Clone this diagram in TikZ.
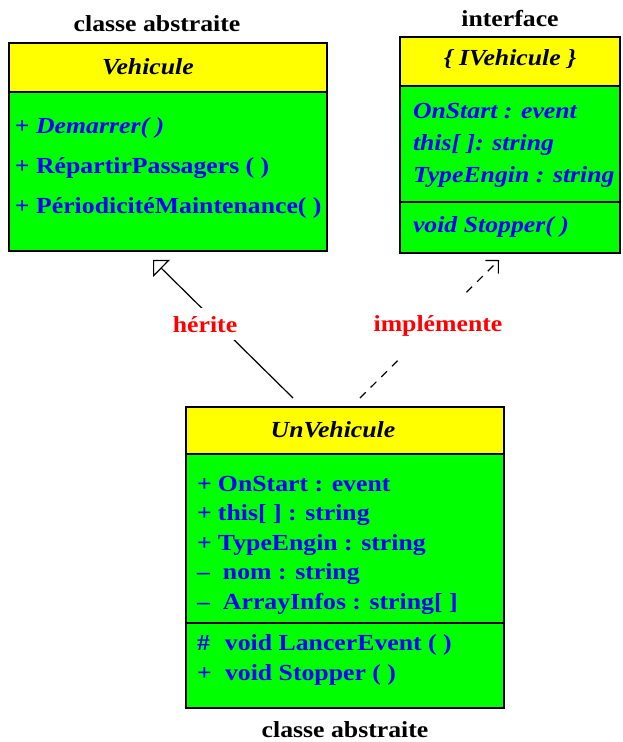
\documentclass[tikz,border=0pt]{standalone}
\usepackage{fontspec}
\setmainfont{Liberation Serif}[FakeStretch=1.12]
\usetikzlibrary{arrows.meta}
\definecolor{umlyellow}{RGB}{255,255,0}
\definecolor{umlgreen}{RGB}{0,255,0}
\definecolor{umlblue}{RGB}{0,0,255}
\definecolor{umlred}{RGB}{255,0,0}
\newcommand{\symb}[2]{\makebox[#1][l]{#2}}
\begin{document}
\begin{tikzpicture}[x=1pt,y=-1pt,
  every node/.style={inner sep=0pt, outer sep=0pt},
  comp/.style={draw=black, line width=1.5pt, anchor=north west},
  head/.style={comp, fill=umlyellow},
  body/.style={comp, fill=umlgreen},
  txt/.style={anchor=base west, text=umlblue, font=\fontsize{23}{28}\selectfont\bfseries},
  itxt/.style={txt, font=\fontsize{23}{28}\selectfont\bfseries\itshape},
  ttl/.style={anchor=base, font=\fontsize{23}{28}\selectfont\bfseries\itshape},
  caption/.style={anchor=base, font=\fontsize{23}{28}\selectfont\bfseries},
  rel/.style={text=umlred, fill=white, font=\fontsize{23}{28}\selectfont\bfseries},
  conn/.style={draw=black, line width=1.2pt},
  inherit/.style={conn, -{Triangle[open, angle=90:17pt, line width=1.2pt]}},
  realize/.style={conn, dash pattern=on 8pt off 7pt, -{Straight Barb[angle=90:13pt, line width=1.2pt]}}
]
\useasboundingbox (0,0) rectangle (623,742);

% ---- Vehicule (abstract class)
\node[caption] (capV) at (157,31) {classe abstraite};
\node[head, minimum width=318pt, minimum height=49pt] (vehH) at (9,43) {};
\node[body, minimum width=318pt, minimum height=159pt] (vehB) at (9,92) {};
\node[ttl] (vehT) at (148,74) {Vehicule};
\node[txt] (v1) at (15,133) {+ \textit{Demarrer( )}};
\node[txt] (v2) at (15,173) {+ RépartirPassagers ( )};
\node[txt] (v3) at (15,213) {+ PériodicitéMaintenance( )};

% ---- IVehicule (interface)
\node[caption] (capI) at (510,26) {interface};
\node[head, minimum width=220pt, minimum height=49pt] (ivH) at (400,37) {};
\node[body, minimum width=220pt, minimum height=116pt] (ivA) at (400,86) {};
\node[body, minimum width=220pt, minimum height=51pt] (ivO) at (400,202) {};
\node[ttl] (ivT) at (510,65) {\{ IVehicule \}};
\node[itxt] (i1) at (413,118) {OnStart : event};
\node[itxt] (i2) at (413,150) {this[ ]: string};
\node[itxt] (i3) at (413,182) {TypeEngin : string};
\node[itxt] (i4) at (413,232) {void Stopper( )};

% ---- UnVehicule (abstract class)
\node[head, minimum width=318pt, minimum height=47pt] (unH) at (186,407) {};
\node[body, minimum width=318pt, minimum height=169pt] (unA) at (186,454) {};
\node[body, minimum width=318pt, minimum height=85pt] (unO) at (186,623) {};
\node[ttl] (unT) at (333,437) {UnVehicule};
\node[txt] (u1) at (197,491) {\symb{21pt}{+}OnStart : event};
\node[txt] (u2) at (197,520) {\symb{21pt}{+}this[ ] : string};
\node[txt] (u3) at (197,550) {\symb{21pt}{+}TypeEngin : string};
\node[txt] (u4) at (197,579) {\symb{26pt}{–}nom : string};
\node[txt] (u5) at (197,609) {\symb{26pt}{–}ArrayInfos : string[ ]};
\node[txt] (u6) at (197,650) {\symb{28pt}{\#}void LancerEvent ( )};
\node[txt] (u7) at (197,680) {\symb{28pt}{+}void Stopper ( )};
\node[caption] (capU) at (345,737) {classe abstraite};

% ---- relations
\draw[inherit] ([xshift=107pt, yshift=9pt]unH.north west) -- ([xshift=144pt, yshift=-9pt]vehB.south west);
\draw[realize] ([xshift=174pt, yshift=9pt]unH.north west) -- ([xshift=99pt, yshift=-7pt]ivO.south west);
\node[rel, inner ysep=8pt, anchor=base] (lblH) at (205,332) {hérite};
\node[rel, minimum height=67pt] (lblI) at (438,326) {implémente};
\end{tikzpicture}
\end{document}
